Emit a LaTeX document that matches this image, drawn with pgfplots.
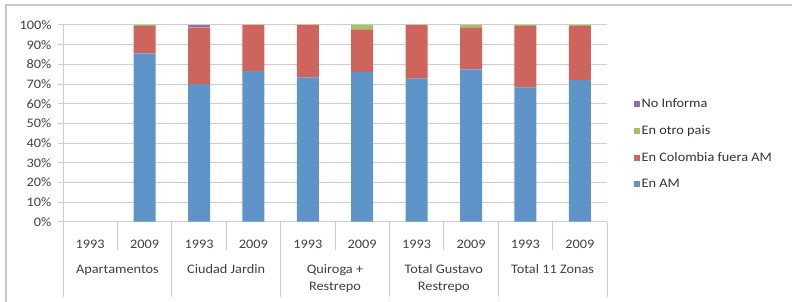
\documentclass[border=0pt]{standalone}
\usepackage{fontspec}
\setmainfont{Carlito}[FakeStretch=1.1]
\usepackage{pgfplots}
\pgfplotsset{compat=1.18}
\definecolor{amblue}{RGB}{95,148,201}
\definecolor{colred}{RGB}{205,101,92}
\definecolor{otgreen}{RGB}{158,196,98}
\definecolor{nipurple}{RGB}{140,112,180}
\definecolor{gridgray}{RGB}{205,205,205}
\definecolor{framegray}{RGB}{200,200,200}
\pgfplotstableread{
x  am    col   otro  ni
0  0     0     0     0
1  85.6  13.9  0.5   0
2  69.9  28.9  0     1.2
3  76.6  23.4  0     0
4  73.4  26.6  0     0
5  76.0  21.8  2.2   0
6  72.7  27.3  0     0
7  77.5  21.3  1.2   0
8  68.3  31.2  0.5   0
9  72.0  27.5  0.5   0
}\datatable
\tikzset{grplab/.style={anchor=north, align=center, inner sep=0pt, text=black!75,
        font=\fontsize{13}{17}\selectfont, yshift=-43pt}}
\begin{document}
\begin{tikzpicture}[x=1pt,y=1pt]
\useasboundingbox (0,0) rectangle (792,302);
\draw[framegray, line width=1.3pt] (6,-5) -- (6,297) -- (800,297);
\begin{axis}[
  at={(63pt,80.3pt)}, anchor=south west,
  scale only axis, width=544pt, height=196.7pt,
  xmin=-0.5, xmax=9.5, ymin=0, ymax=100,
  ybar stacked, bar width=22pt,
  axis lines*=left,
  axis line style={gridgray, line width=1pt},
  xtick={0,...,9},
  xticklabels={1993,2009,1993,2009,1993,2009,1993,2009,1993,2009},
  x tick style={draw=none},
  xticklabel style={yshift=-10pt},
  ytick={0,10,...,100},
  yticklabels={0\%,10\%,20\%,30\%,40\%,50\%,60\%,70\%,80\%,90\%,100\%},
  yticklabel style={xshift=-3pt},
  y tick style={gridgray, line width=1pt},
  tick align=outside, major tick length=5pt,
  ymajorgrids, grid style={gridgray, line width=1pt},
  ticklabel style={font=\fontsize{13}{15}\selectfont, text=black!75},
  clip=false,
  reverse legend,
  legend style={at={(1.043,0.648)}, anchor=north west, draw=none, fill=none,
    font=\fontsize{13}{15}\selectfont, text=black!80, row sep=12.5pt,
    legend cell align=left},
  legend image code/.code={\fill[#1] (0pt,-3pt) rectangle (6pt,3pt);},
]
\addplot[fill=amblue, draw=none] table[x=x,y=am] {\datatable};
\addlegendentry{En AM}
\addplot[fill=colred, draw=none] table[x=x,y=col] {\datatable};
\addlegendentry{En Colombia fuera AM}
\addplot[fill=otgreen, draw=none] table[x=x,y=otro] {\datatable};
\addlegendentry{En otro pais}
\addplot[fill=nipurple, draw=none] table[x=x,y=ni] {\datatable};
\addlegendentry{No Informa}
\draw[gridgray, line width=1pt] (axis cs:0.5,0) -- ++(0pt,-28.5pt);
\draw[gridgray, line width=1pt] (axis cs:2.5,0) -- ++(0pt,-28.5pt);
\draw[gridgray, line width=1pt] (axis cs:4.5,0) -- ++(0pt,-28.5pt);
\draw[gridgray, line width=1pt] (axis cs:6.5,0) -- ++(0pt,-28.5pt);
\draw[gridgray, line width=1pt] (axis cs:8.5,0) -- ++(0pt,-28.5pt);
\draw[gridgray, line width=1pt] (axis cs:-0.5,0) -- ++(0pt,-75.5pt);
\draw[gridgray, line width=1pt] (axis cs:1.5,0) -- ++(0pt,-75.5pt);
\draw[gridgray, line width=1pt] (axis cs:3.5,0) -- ++(0pt,-75.5pt);
\draw[gridgray, line width=1pt] (axis cs:5.5,0) -- ++(0pt,-75.5pt);
\draw[gridgray, line width=1pt] (axis cs:7.5,0) -- ++(0pt,-75.5pt);
\draw[gridgray, line width=1pt] (axis cs:9.5,0) -- ++(0pt,-75.5pt);
\node[grplab] at (axis cs:0.5,0) {Apartamentos};
\node[grplab] at (axis cs:2.5,0) {Ciudad Jardin};
\node[grplab] at (axis cs:4.5,0) {Quiroga +\\Restrepo};
\node[grplab] at (axis cs:6.5,0) {Total Gustavo\\Restrepo};
\node[grplab] at (axis cs:8.5,0) {Total 11 Zonas};
\end{axis}
\end{tikzpicture}
\end{document}
